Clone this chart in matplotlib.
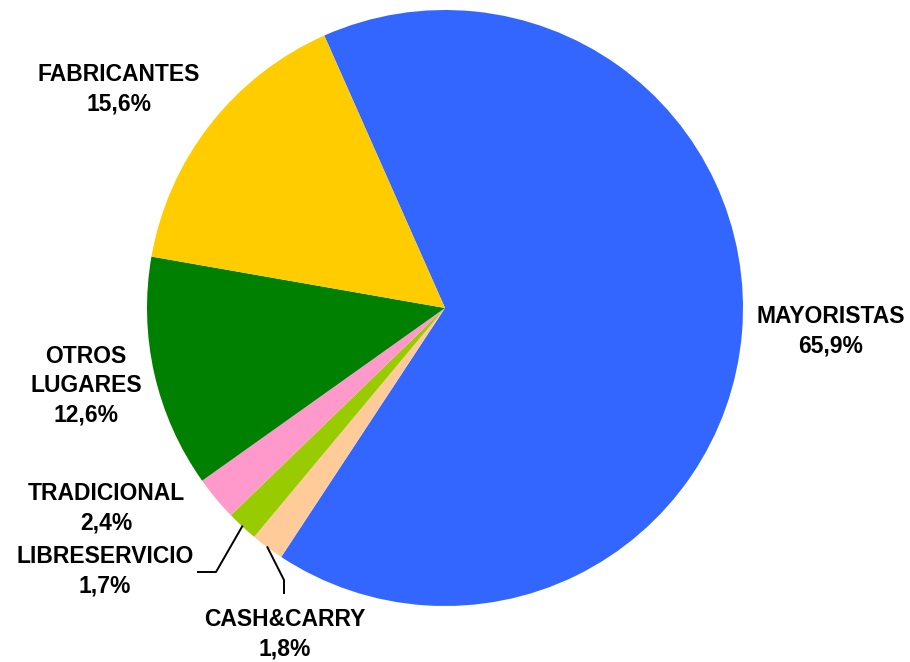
import numpy as np
import matplotlib
matplotlib.use('Agg')
import matplotlib.pyplot as plt

# ==[0] Data
names = ['MAYORISTAS', 'CASH&CARRY', 'LIBRESERVICIO', 'TRADICIONAL', 'OTROS\nLUGARES', 'FABRICANTES']
shares = [65.9, 1.8, 1.7, 2.4, 12.6, 15.6]
colors = ['#3366FF', '#FFCC99', '#99CC00', '#FF99CC', '#008000', '#FFCC00']

plt.rcParams['font.family'] = ['Liberation Sans', 'DejaVu Sans']

# ==[1] Figure in pixel-like coordinates
W, H = 910, 662
fig = plt.figure(figsize=(W / 100, H / 100), dpi=100)
ax = fig.add_axes([0, 0, 1, 1])

cx, cy, R = 445, H - 308, 298
start = 113.9
wedges, _ = ax.pie(shares, colors=colors, startangle=start, counterclock=False,
                   center=(cx, cy), radius=R, frame=True,
                   wedgeprops=dict(linewidth=0))
ax.set_xlim(0, W)
ax.set_ylim(0, H)
ax.set_aspect('equal')
ax.axis('off')

# ==[2] Labels
lab_pos = {
    'MAYORISTAS': (831, 331),
    'CASH&CARRY': (285, 634),
    'LIBRESERVICIO': (105, 571),
    'TRADICIONAL': (106, 508),
    'OTROS\nLUGARES': (86, 386),
    'FABRICANTES': (119, 89),
}
for name, val in zip(names, shares):
    px, py = lab_pos[name]
    txt = name + '\n' + f'{val:.1f}'.replace('.', ',') + '%'
    ax.text(px, H - py, txt, ha='center', va='center', fontsize=16.5,
            fontweight='bold', linespacing=1.36, color='black')

# ==[3] Leader lines for the small slices
def edge_point(w):
    mid = np.deg2rad((w.theta1 + w.theta2) / 2)
    return cx + R * np.cos(mid), cy + R * np.sin(mid)

x0, y0 = edge_point(wedges[2])
ax.plot([x0, 216, 198], [y0, H - 572, H - 572], color='black', lw=1.4)
x0, y0 = edge_point(wedges[1])
ax.plot([x0, 284, 284], [y0, H - 580, H - 593], color='black', lw=1.4)

fig.savefig('out.png', dpi=100)
